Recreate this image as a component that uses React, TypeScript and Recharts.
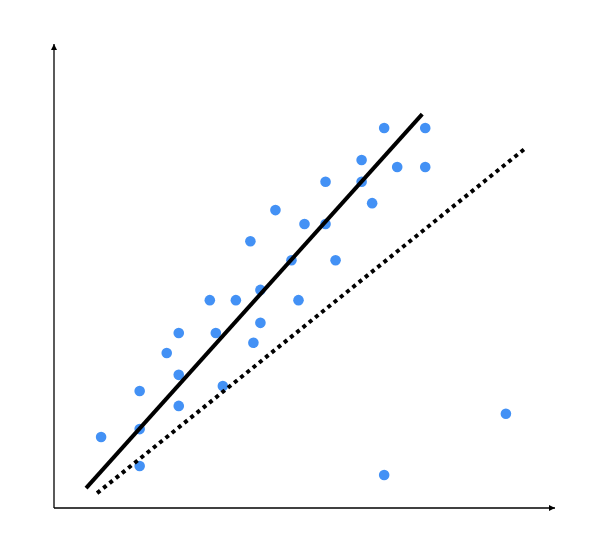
import { ScatterChart, Scatter, XAxis, YAxis } from "recharts";

const pointX = [
  9.4, 17.1, 17.1, 17.1, 22.5, 24.9, 24.9, 24.9, 31.1, 32.3, 33.7, 36.3, 39.2,
  39.8, 41.2, 41.2, 44.2, 47.4, 48.8, 50.0, 54.2, 54.2, 56.2, 61.4, 61.4, 63.5,
  65.9, 68.5, 74.1, 74.1, 65.9, 90.2,
];
const pointY = [
  15.3, 25.2, 17.0, 9.05, 33.4, 37.7, 28.7, 22.0, 44.8, 37.7, 26.3, 44.8, 57.5,
  35.6, 47.0, 39.9, 64.2, 53.4, 44.8, 61.2, 70.3, 61.2, 53.4, 75.0, 70.3, 65.7,
  81.9, 73.5, 81.9, 73.5, 7.1, 20.3,
];

// two end points of each straight line
const solidX = [6.4, 73.5];
const solidY = [4.3, 84.9];
const dottedX = [8.6, 94.4];
const dottedY = [3.2, 77.8];

const toRows = (xs: number[], ys: number[]) =>
  xs.map((x, i) => ({ x, y: ys[i] }));

const points = toRows(pointX, pointY);
const solidLine = toRows(solidX, solidY);
const dottedLine = toRows(dottedX, dottedY);

const Dot = (props: any) => (
  <circle cx={props.cx} cy={props.cy} r={5.3} fill="#4391F5" />
);
const NoDot = () => <g />;

export default function App() {
  return (
    <div style={{ position: "absolute", left: 0, top: 0 }}>
      <svg width={0} height={0} style={{ position: "absolute" }}>
        <defs>
          <marker
            id="arrowEnd"
            markerUnits="userSpaceOnUse"
            markerWidth={8}
            markerHeight={8}
            refX={6}
            refY={3}
            orient="auto"
          >
            <path d="M0,0 L6,3 L0,6 z" fill="#000" />
          </marker>
          <marker
            id="arrowStart"
            markerUnits="userSpaceOnUse"
            markerWidth={8}
            markerHeight={8}
            refX={0}
            refY={3}
            orient="auto"
          >
            <path d="M6,0 L0,3 L6,6 z" fill="#000" />
          </marker>
        </defs>
      </svg>
      <ScatterChart
        width={599}
        height={559}
        margin={{ top: 44, right: 44, bottom: 50, left: 53 }}
      >
        <XAxis
          type="number"
          dataKey="x"
          domain={[0, 100]}
          tick={false}
          tickLine={false}
          height={1}
          axisLine={{ stroke: "#000", strokeWidth: 1.3, markerEnd: "url(#arrowEnd)" }}
        />
        <YAxis
          type="number"
          dataKey="y"
          domain={[0, 100]}
          tick={false}
          tickLine={false}
          width={1}
          axisLine={{ stroke: "#000", strokeWidth: 1.3, markerStart: "url(#arrowStart)" }}
        />
        <Scatter data={points} shape={<Dot />} isAnimationActive={false} />
        <Scatter
          data={solidLine}
          shape={<NoDot />}
          line={{ stroke: "#000", strokeWidth: 4 }}
          isAnimationActive={false}
        />
        <Scatter
          data={dottedLine}
          shape={<NoDot />}
          line={{ stroke: "#000", strokeWidth: 4, strokeDasharray: "4 4" }}
          isAnimationActive={false}
        />
      </ScatterChart>
    </div>
  );
}
